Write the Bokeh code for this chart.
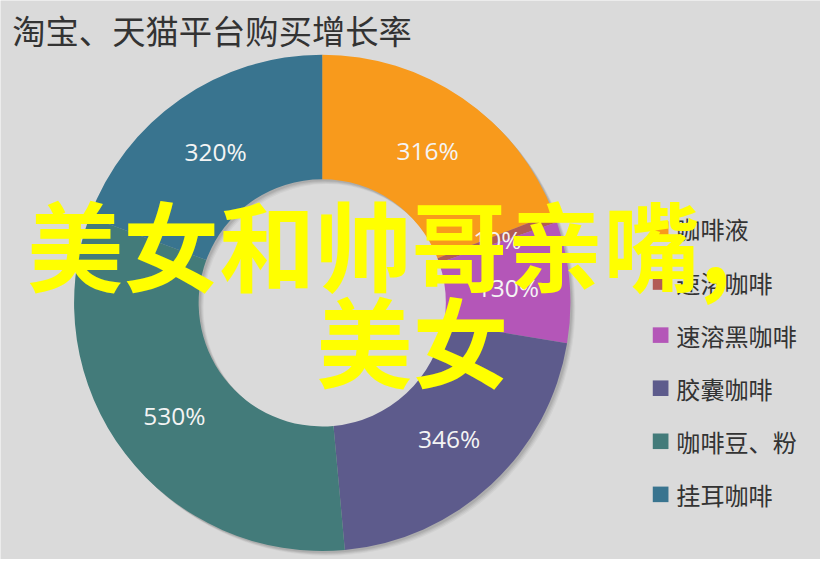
import numpy as np
from bokeh.plotting import figure
from bokeh.models import Range1d, ColumnDataSource
from bokeh.core.properties import value
from bokeh.embed import file_html
from bokeh.resources import INLINE

# ---- data ----
title = "淘宝、天猫平台购买增长率"
categories = ["咖啡液", "速溶咖啡", "速溶黑咖啡", "胶囊咖啡", "咖啡豆、粉", "挂耳咖啡"]
growth = [316, 10, 130, 346, 530, 320]
labels = ["316%", "10%", "130%", "346%", "530%", "320%"]
colors = ["#F89A1C", "#B25B55", "#B456B8", "#5D5B8C", "#437B7A", "#39748F"]
overlay_lines = ["美女和帅哥亲嘴,", "美女"]

W, H = 836, 575
PW, PH = 820, 559
S = PW / W  # font scale
BG = "#DADADA"

def Y(y):  # image y (down) -> data y (up)
    return H - y

def fs(px):
    return f"{px * S:.1f}px"

p = figure(width=PW, height=PH, output_backend="svg", toolbar_location=None,
           x_range=Range1d(0, W), y_range=Range1d(0, H),
           min_border=0, background_fill_color=BG, border_fill_color=BG,
           outline_line_color=None)
p.axis.visible = False
p.grid.visible = False

# ---- donut ----
cx, cy = 328, Y(311)
r_out, r_in = 253, 126
vals = np.array(growth, dtype=float)
frac = vals / vals.sum()
cum = np.concatenate([[0], np.cumsum(frac)])
start = np.pi / 2 - cum[:-1] * 2 * np.pi
end = np.pi / 2 - cum[1:] * 2 * np.pi
mid = (start + end) / 2
r_lab = 190
src = ColumnDataSource(dict(start=start, end=end, color=colors,
                            lx=cx + r_lab * np.cos(mid), ly=cy + r_lab * np.sin(mid),
                            label=labels))
# soft shadow
for off, a in [(5, 0.04), (4, 0.05), (3, 0.06), (2, 0.07)]:
    p.annular_wedge(x=cx + off, y=cy - off, inner_radius=r_in, outer_radius=r_out,
                    start_angle=0, end_angle=2 * np.pi, fill_color="black",
                    fill_alpha=a, line_color=None)
p.annular_wedge(x=cx, y=cy, inner_radius=r_in, outer_radius=r_out,
                start_angle="start", end_angle="end", direction="clock",
                fill_color="color", line_color=None, source=src)
p.text(x="lx", y="ly", text="label", source=src, text_color="#F4F4F4",
       text_font=value("Open Sans"), text_font_size=fs(25),
       text_align="center", text_baseline="middle")

# ---- title ----
p.text(x=[12], y=[Y(30)], text=[title], text_color="#333333",
       text_font=value("Noto Sans CJK SC"), text_font_size=fs(34),
       text_align="left", text_baseline="middle")

# ---- legend ----
n = len(categories)
ly0, lstep = 235, 54.6
leg_y = [Y(ly0 + i * lstep) for i in range(n)]
p.rect(x=[673] * n, y=leg_y, width=16, height=16, fill_color=colors, line_color=None)
p.text(x=[689] * n, y=leg_y, text=categories, text_color="#333333",
       text_font=value("Noto Sans CJK SC"), text_font_size=fs(24.6),
       text_align="left", text_baseline="middle")

# ---- overlay text ----
p.text(x=[27, 322], y=[Y(249), Y(348)], text=overlay_lines, text_color="#FFFF00",
       text_font=value("Noto Sans CJK SC"), text_font_size=fs(98),
       text_font_style="bold", text_align="left", text_baseline="middle")

open("out.html", "w").write(file_html(p, INLINE))
